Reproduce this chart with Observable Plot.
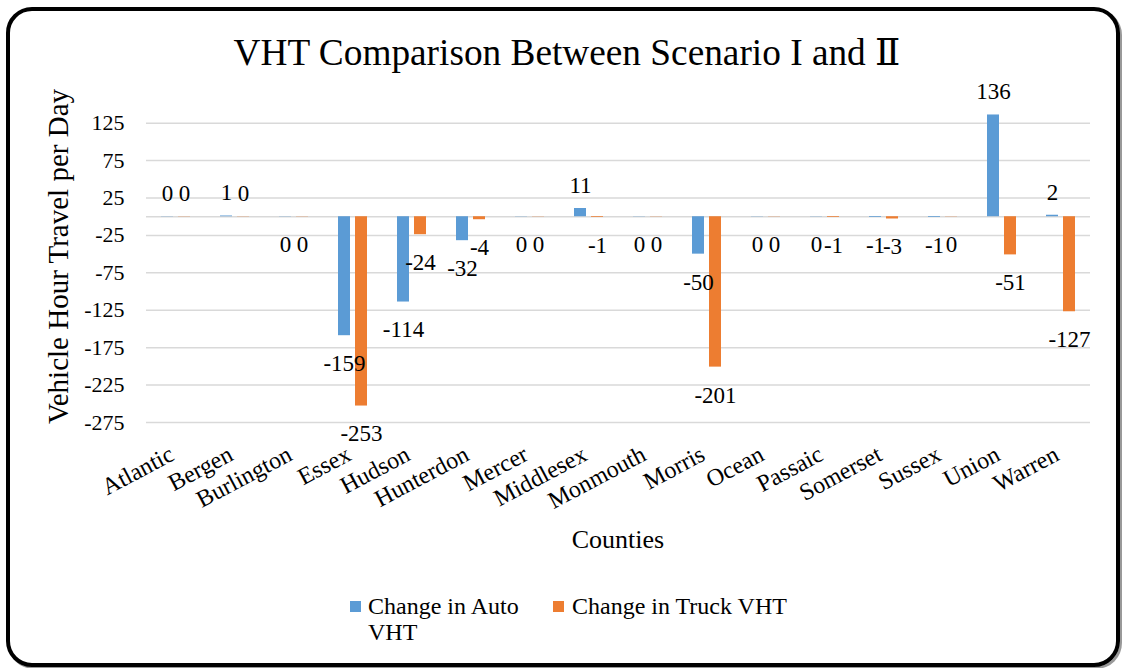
<!DOCTYPE html>
<html><head><meta charset="utf-8">
<script src="https://cdn.jsdelivr.net/npm/d3@7"></script>
<script src="https://cdn.jsdelivr.net/npm/@observablehq/plot@0.6"></script>
<style>
body{margin:0;background:#fff;font-family:"Liberation Serif","Times New Roman",Times,Tinos,"DejaVu Serif",serif;color:#000;}
#frame{position:absolute;left:6px;top:7px;width:1114px;height:660px;box-sizing:border-box;border:4px solid #000;border-radius:26px;box-shadow:2px 2px 0 #999;}
#title{position:absolute;left:0;width:1134px;top:34px;text-align:center;font-size:37.3px;line-height:1;white-space:nowrap;}
#chart{position:absolute;left:0;top:70px;}
#xtitle{position:absolute;left:518px;width:200px;top:527px;text-align:center;font-size:26px;line-height:1;}
.sw{position:absolute;width:11px;height:11px;}
.lt{position:absolute;font-size:24px;line-height:26px;}
</style></head>
<body>
<div id="frame"></div>
<div id="title">VHT Comparison Between Scenario I and Ⅱ</div>
<div id="chart"></div>
<div id="xtitle">Counties</div>
<div id="legend"></div>
<script>
const counties = ["Atlantic","Bergen","Burlington","Essex","Hudson","Hunterdon","Mercer","Middlesex","Monmouth","Morris","Ocean","Passaic","Somerset","Sussex","Union","Warren"];
const autoVHT  = [0.3, 1, -0.3, -159, -114, -32, -0.3, 11, -0.3, -50, -0.3, -0.3, -1, -1, 136, 2];
const truckVHT = [0.3, 0.3, -0.3, -253, -24, -4, -0.3, -1, -0.3, -201, -0.3, -1, -3, -0.3, -51, -127];
const seriesNames = ["Change in Auto VHT", "Change in Truck VHT"];
const seriesColors = ["#5b9bd5", "#ed7d31"];
const yTicks = [125, 75, 25, -25, -75, -125, -175, -225, -275];

const data = counties.flatMap((c, i) => [
  {county: c, series: seriesNames[0], value: autoVHT[i]},
  {county: c, series: seriesNames[1], value: truckVHT[i]}
]);
const fmt = v => String(Math.round(v));
const FONT = '"Liberation Serif","Times New Roman",Times,Tinos,"DejaVu Serif",serif';

const chart = Plot.plot({
  width: 1122, height: 490,
  marginLeft: 144, marginRight: 30, marginTop: 34, marginBottom: 138,
  style: {fontFamily: FONT, background: "transparent", color: "#000"},
  fx: {domain: counties, padding: 0},
  x: {domain: seriesNames, paddingInner: 0.27, paddingOuter: 0.84, axis: null},
  y: {domain: [-275, 150]},
  color: {domain: seriesNames, range: seriesColors},
  marks: [
    Plot.ruleY([...yTicks, 0], {stroke: "#d9d9d9", strokeWidth: 1.5}),
    Plot.barY(data, {fx: "county", x: "series", y: "value", fill: "series"}),
    Plot.text(data.filter(d => d.value >= 0), {fx: "county", x: "series", y: "value", text: d => fmt(d.value), dy: -23, fontSize: 23, fill: "#000"}),
    Plot.text(data.filter(d => d.value < 0), {fx: "county", x: "series", y: "value", text: d => fmt(d.value), dy: 28, fontSize: 23, fill: "#000"}),
    Plot.axisY({ticks: yTicks, tickSize: 0, tickPadding: 22, fontSize: 22, label: null, tickFormat: d => String(d), fontFamily: FONT}),
    Plot.text(["Vehicle Hour Travel per Day"], {fx: () => counties[0], frameAnchor: "left", textAnchor: "middle", rotate: -90, dx: -88, dy: -7, fontSize: 29, fill: "#000"}),
    Plot.axisFx({anchor: "bottom", tickRotate: -28, tickSize: 0, tickPadding: 22, dx: -4, dy: 8, fontSize: 24, label: null, fontFamily: FONT})
  ]
});
document.getElementById("chart").appendChild(chart);

const legend = document.getElementById("legend");
const items = [
  {x: 350, tx: 368, w: 170},
  {x: 553, tx: 572, w: 260}
];
seriesNames.forEach((name, i) => {
  const sw = document.createElement("div");
  sw.className = "sw";
  sw.style.left = items[i].x + "px"; sw.style.top = "601px"; sw.style.background = seriesColors[i];
  legend.appendChild(sw);
  const t = document.createElement("div");
  t.className = "lt";
  t.style.left = items[i].tx + "px"; t.style.top = "593px"; t.style.width = items[i].w + "px";
  t.textContent = name;
  legend.appendChild(t);
});
</script>
</body></html>
